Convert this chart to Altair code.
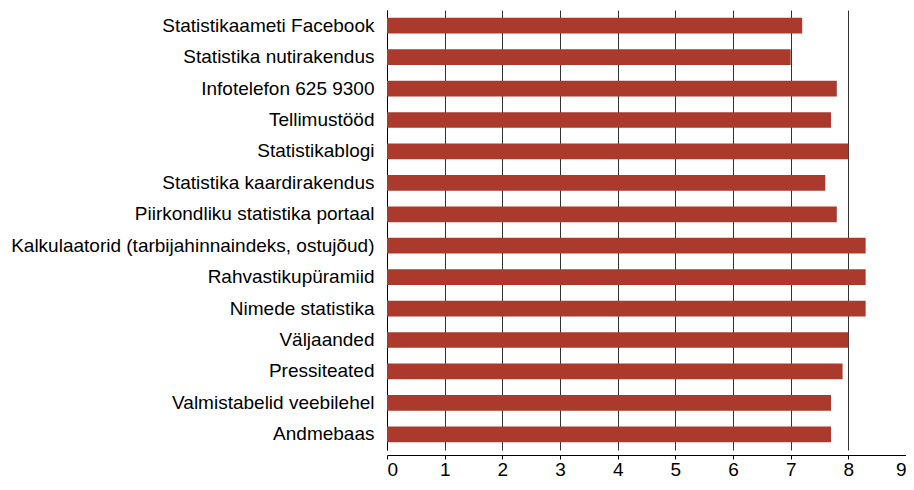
import altair as alt
import pandas as pd

categories = [
    "Statistikaameti Facebook",
    "Statistika nutirakendus",
    "Infotelefon 625 9300",
    "Tellimustööd",
    "Statistikablogi",
    "Statistika kaardirakendus",
    "Piirkondliku statistika portaal",
    "Kalkulaatorid (tarbijahinnaindeks, ostujõud)",
    "Rahvastikupüramiid",
    "Nimede statistika",
    "Väljaanded",
    "Pressiteated",
    "Valmistabelid veebilehel",
    "Andmebaas",
]
values = [7.2, 7.0, 7.8, 7.7, 8.0, 7.6, 7.8, 8.3, 8.3, 8.3, 8.0, 7.9, 7.7, 7.7]
x_ticks = [0, 1, 2, 3, 4, 5, 6, 7, 8, 9]

df = pd.DataFrame({"cat": categories, "val": values})

FONT = "Liberation Sans"

chart = (
    alt.Chart(df)
    .mark_bar(color="#AB3A2C")
    .encode(
        x=alt.X(
            "val:Q",
            scale=alt.Scale(domain=[0, 9], nice=False),
            axis=alt.Axis(
                values=x_ticks,
                title=None,
                grid=True,
                gridColor="#333333",
                gridOpacity=1,
                domainColor="#000000",
                tickColor="#000000",
                tickSize=4,
                offset=5,
                labelFontSize=19,
                labelFont=FONT,
                labelColor="#000000",
                labelPadding=1,
            ),
        ),
        y=alt.Y(
            "cat:N",
            sort=categories,
            scale=alt.Scale(paddingInner=0.5, paddingOuter=0.25),
            axis=alt.Axis(
                title=None,
                ticks=False,
                domainColor="#000000",
                labelFontSize=19,
                labelFont=FONT,
                labelColor="#000000",
                labelPadding=13,
                labelLimit=500,
            ),
        ),
    )
    .properties(
        width=519,
        height=440,
        autosize=alt.AutoSizeParams(type="none"),
        padding={"left": 379, "top": 2, "right": 0, "bottom": 32},
    )
    .configure_view(stroke=None)
)

chart.save("out.html", embed_options={"renderer": "svg", "actions": False})
